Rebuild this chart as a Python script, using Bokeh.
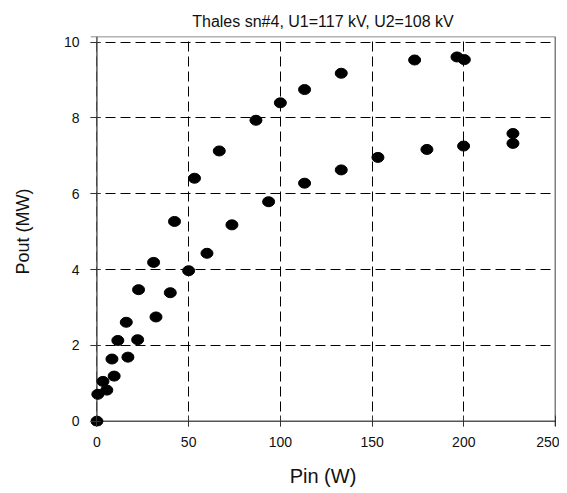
from bokeh.plotting import figure
from bokeh.models import FixedTicker, Range1d, ColumnDataSource, Span
from bokeh.embed import file_html
from bokeh.resources import INLINE

title_text = "Thales sn#4, U1=117 kV, U2=108 kV"
x_label = "Pin (W)"
y_label = "Pout (MW)"
x_ticks = [0, 50, 100, 150, 200, 250]
y_ticks = [0, 2, 4, 6, 8, 10]

# Series U1 = 117 kV (upper curve)
pin_u1 = [0, 3.3, 8.2, 11.4, 16.0, 22.7, 30.9, 42.3, 53.2, 66.7, 86.7, 100.0, 113.2, 133.2, 173.2, 196.3, 200.3]
pout_u1 = [0.0, 1.05, 1.64, 2.13, 2.61, 3.47, 4.19, 5.27, 6.41, 7.13, 7.94, 8.40, 8.75, 9.18, 9.53, 9.61, 9.54]

# Series U2 = 108 kV (lower curve)
pin_u2 = [0.5, 5.4, 9.4, 16.9, 22.2, 32.2, 40.0, 50.0, 60.0, 73.6, 93.6, 113.2, 133.2, 153.2, 179.9, 199.9, 226.8, 226.8]
pout_u2 = [0.71, 0.82, 1.19, 1.69, 2.15, 2.75, 3.39, 3.97, 4.43, 5.18, 5.79, 6.28, 6.63, 6.96, 7.17, 7.26, 7.33, 7.59]

FONT = "Liberation Sans"
X_START, X_END = -3.5, 250
Y_START, Y_END = -0.14, 10.15

p = figure(width=559, height=493, output_backend="svg", toolbar_location=None,
           x_range=Range1d(X_START, X_END), y_range=Range1d(Y_START, Y_END),
           min_border_left=90, min_border_right=4, min_border_top=36, min_border_bottom=67,
           title=title_text)

p.title.text_font = FONT
p.title.text_font_size = "16px"
p.title.text_font_style = "normal"
p.title.text_color = "#111111"
p.title.align = "center"
p.title.standoff = 13

p.outline_line_color = None
p.background_fill_color = "white"
p.border_fill_color = "white"

for ax in (p.xaxis[0], p.yaxis[0]):
    ax.axis_line_color = None
    ax.major_tick_line_color = "#333333"
    ax.minor_tick_line_color = None
    ax.major_label_text_font = FONT
    ax.major_label_text_font_size = "14px"
    ax.major_label_text_color = "#111111"
    ax.axis_label_text_font = FONT
    ax.axis_label_text_font_style = "normal"
    ax.axis_label_text_color = "#111111"

p.xaxis.ticker = FixedTicker(ticks=x_ticks)
p.yaxis.ticker = FixedTicker(ticks=y_ticks)
p.xaxis.axis_label = x_label
p.yaxis.axis_label = y_label
p.xaxis.axis_label_text_font_size = "20px"
p.yaxis.axis_label_text_font_size = "18px"
p.xaxis.major_tick_out = 0
p.xaxis.major_tick_in = 11
p.xaxis.major_label_standoff = 10
p.xaxis.axis_label_standoff = 15
p.yaxis.major_tick_out = 0
p.yaxis.major_tick_in = 10
p.yaxis.major_label_standoff = 11
p.yaxis.axis_label_standoff = 28

for g in (p.xgrid[0], p.ygrid[0]):
    g.grid_line_color = "black"
    g.grid_line_width = 1
    g.grid_line_dash = "10 5"
p.xgrid.ticker = FixedTicker(ticks=x_ticks)
p.ygrid.ticker = FixedTicker(ticks=y_ticks)

# axis lines at the data origin and frame borders at top / right
p.add_layout(Span(location=0, dimension="height", line_color="#555555", line_width=1.5, level="underlay"))
p.add_layout(Span(location=0, dimension="width", line_color="#555555", line_width=1.5, level="underlay"))
p.add_layout(Span(location=X_END, dimension="height", line_color="black", line_width=1.5, level="underlay"))
p.add_layout(Span(location=Y_END, dimension="width", line_color="#666666", line_width=1.5, level="underlay"))

src1 = ColumnDataSource(dict(x=pin_u1, y=pout_u1))
src2 = ColumnDataSource(dict(x=pin_u2, y=pout_u2))
for src in (src1, src2):
    p.ellipse(x="x", y="y", width=12, height=10, width_units="screen", height_units="screen",
              source=src, fill_color="black", line_color="black")

open("out.html", "w").write(file_html(p, INLINE))
